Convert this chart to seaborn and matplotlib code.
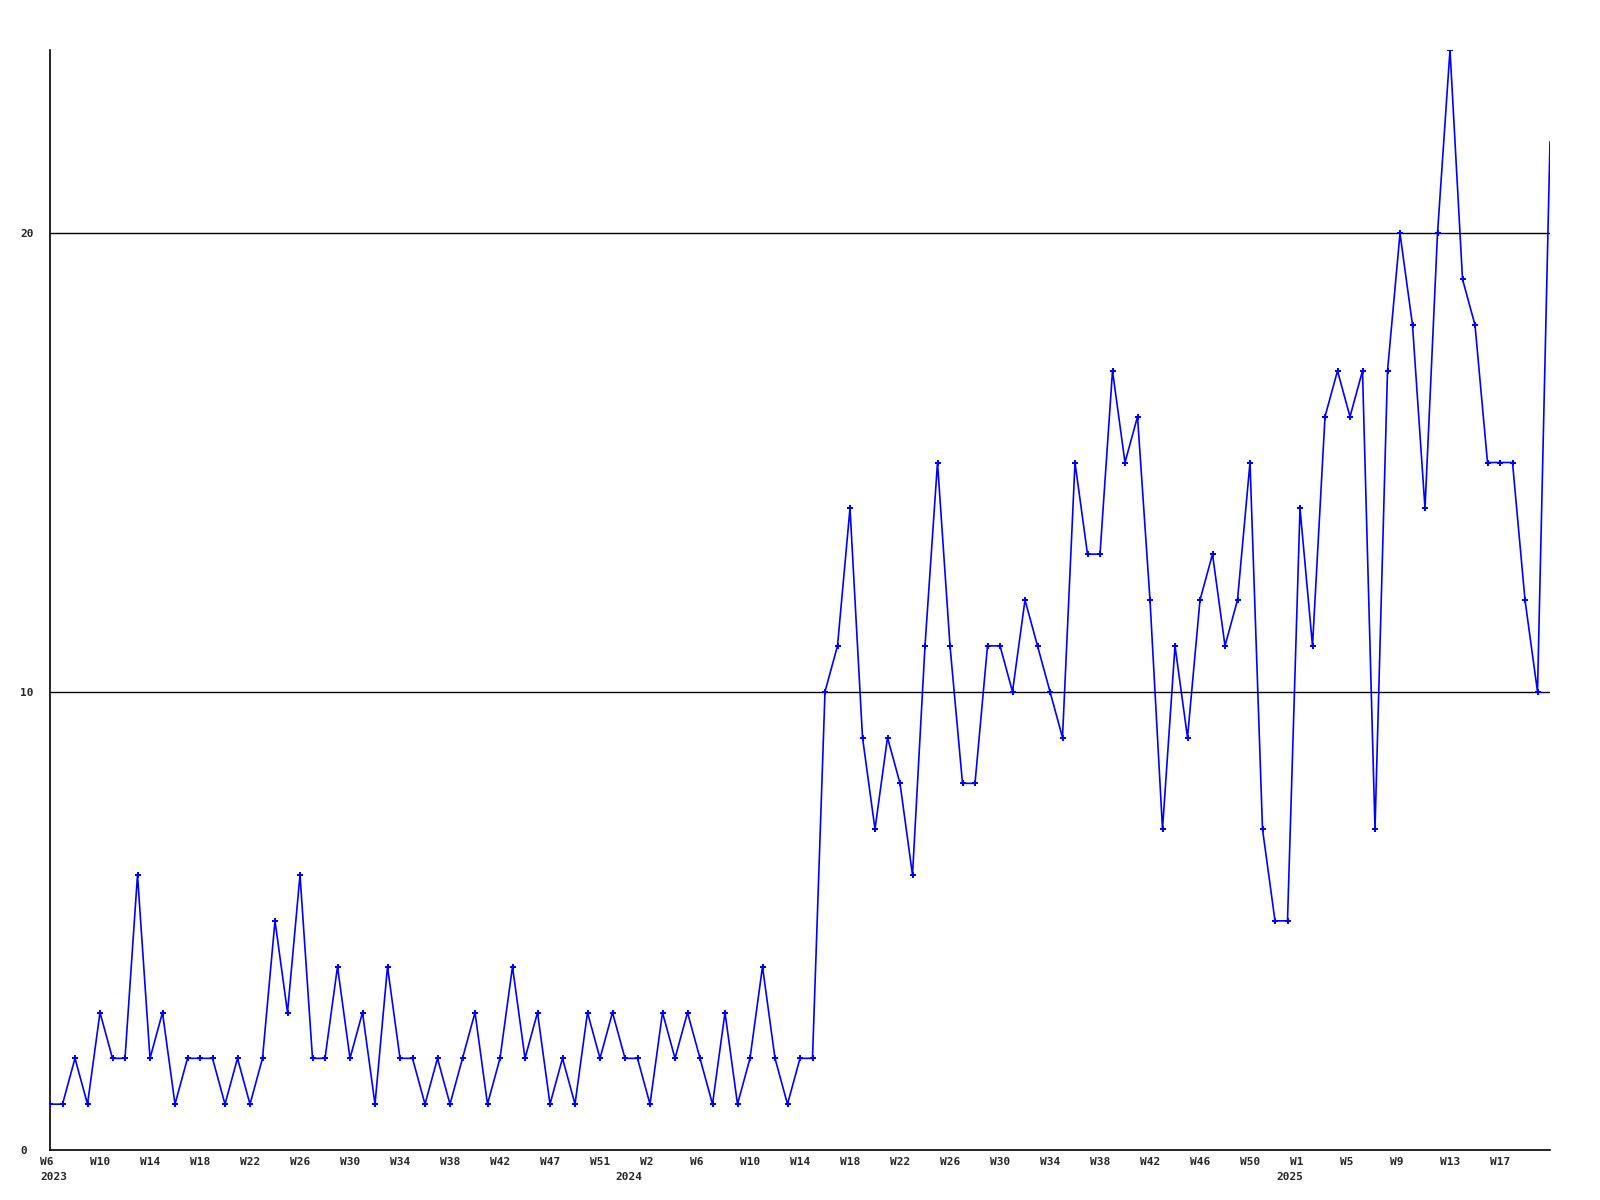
import numpy as np
import pandas as pd
import matplotlib
matplotlib.use("Agg")
import matplotlib.pyplot as plt
import matplotlib.transforms as mtransforms
import seaborn as sns

# weekly counts, 2023 W6 -> 2025 W21
counts = [1, 1, 2, 1, 3, 2, 2, 6, 2, 3, 1, 2, 2, 2, 1, 2, 1, 2, 5, 3,
          6, 2, 2, 4, 2, 3, 1, 4, 2, 2, 1, 2, 1, 2, 3, 1, 2, 4, 2, 3,
          1, 2, 1, 3, 2, 3, 2, 2, 1, 3, 2, 3, 2, 1, 3, 1, 2, 4, 2, 1,
          2, 2, 10, 11, 14, 9, 7, 9, 8, 6, 11, 15, 11, 8, 8, 11, 11, 10, 12, 11,
          10, 9, 15, 13, 13, 17, 15, 16, 12, 7, 11, 9, 12, 13, 11, 12, 15, 7, 5, 5,
          14, 11, 16, 17, 16, 17, 7, 17, 20, 18, 14, 20, 24, 19, 18, 15, 15, 15, 12, 10,
          22]

week_ticks = ["W6", "W10", "W14", "W18", "W22", "W26", "W30", "W34", "W38", "W42",
              "W47", "W51", "W2", "W6", "W10", "W14", "W18", "W22", "W26", "W30",
              "W34", "W38", "W42", "W46", "W50", "W1", "W5", "W9", "W13", "W17"]
year_labels = ["2023", "2024", "2025"]
year_pos = [0.3, 46.3, 99.2]

df = pd.DataFrame({"week": np.arange(len(counts)), "count": counts})

sns.set_style("white")
plt.rcParams['font.family'] = ['DejaVu Sans Mono']
plt.rcParams['font.weight'] = 'bold'

fig = plt.figure(figsize=(16, 12), dpi=100)
ax = fig.add_axes([50 / 1600, 50 / 1200, 1500 / 1600, 1100 / 1200])

# no marker on the last (still running) week
sns.lineplot(data=df, x="week", y="count", ax=ax, color="#0000ff", linewidth=1.2,
             marker="P", markersize=5, markeredgewidth=0, zorder=3,
             markevery=list(range(len(counts) - 1)))

ax.set_xlim(0, len(counts) - 1)
ax.set_ylim(0, 24)

for v in [10, 20]:
    ax.axhline(v, color="black", linewidth=1, zorder=1)

for s in ["top", "right"]:
    ax.spines[s].set_visible(False)
for s in ["left", "bottom"]:
    ax.spines[s].set_color("black")
    ax.spines[s].set_linewidth(1.2)

ax.set_yticks([0, 10, 20])
ax.set_yticklabels(["0", "10", "20"], fontsize=8, fontweight="bold")
for lab in ax.get_yticklabels():
    lab.set_horizontalalignment("left")
ax.tick_params(axis="y", length=0, pad=21.6)

# week labels: left edge 10px before their week
ax.set_xticks([])
trans = mtransforms.blended_transform_factory(ax.transData, ax.transAxes)
shift = mtransforms.ScaledTranslation(-10 / 100, 0, fig.dpi_scale_trans)
tick_idx = np.arange(0, len(counts) - 1, 4)
for wl, xp in zip(week_ticks, tick_idx):
    ax.text(xp, -12 / 1100, wl, transform=trans + shift, ha="left", va="center",
            fontsize=8, fontweight="bold", clip_on=False)

for yl, xp in zip(year_labels, year_pos):
    ax.text(xp, -27 / 1100, yl, transform=trans, ha="center", va="center",
            fontsize=8, fontweight="bold", clip_on=False)

ax.set_xlabel("")
ax.set_ylabel("")

fig.savefig("out.png", dpi=100)
